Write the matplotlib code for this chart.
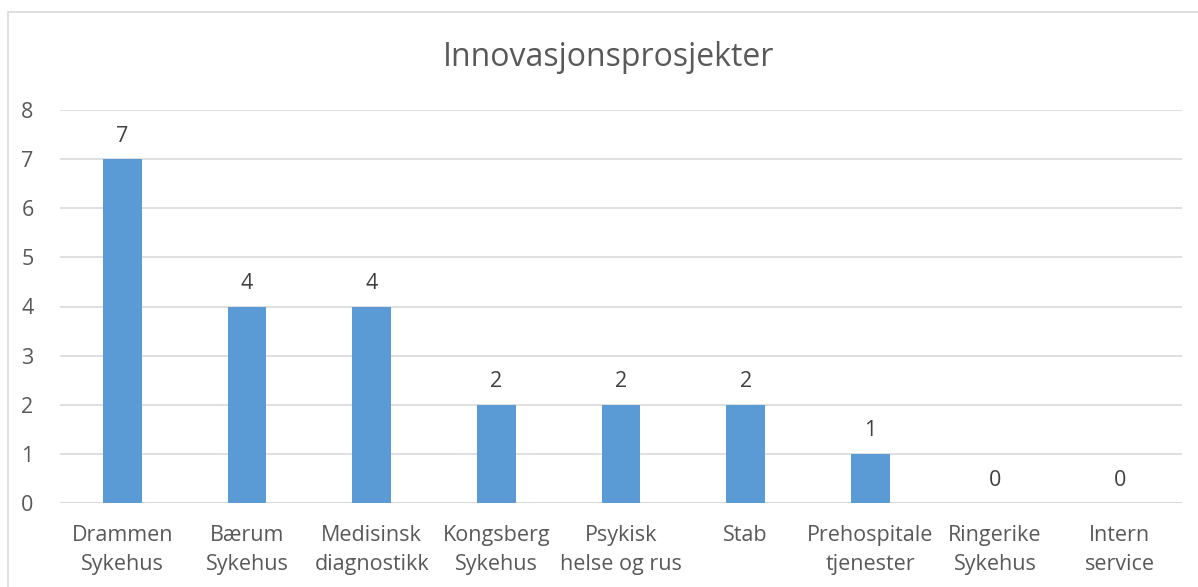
import matplotlib
matplotlib.use("Agg")
import matplotlib.pyplot as plt
from matplotlib.patches import Rectangle

categories = ["Drammen\nSykehus", "Bærum\nSykehus", "Medisinsk\ndiagnostikk",
              "Kongsberg\nSykehus", "Psykisk\nhelse og rus", "Stab",
              "Prehospitale\ntjenester", "Ringerike\nSykehus", "Intern\nservice"]
values = [7, 4, 4, 2, 2, 2, 1, 0, 0]
yticks = [0, 1, 2, 3, 4, 5, 6, 7, 8]
title = "Innovasjonsprosjekter"

plt.rcParams['font.family'] = ['Open Sans', 'DejaVu Sans']
txt = "#595959"
W, H = 1198, 587
fig = plt.figure(figsize=(W / 100, H / 100), dpi=100)
fig.patch.set_facecolor("white")

# chart border (cut off at right)
fig.patches.append(Rectangle((8 / W, -0.1), 1.2, 1 - 12 / H + 0.1, transform=fig.transFigure,
                             fill=False, edgecolor="#D9D9D9", linewidth=1.2))
# cropped document text at top
fig.text(60 / W, 1 + 6.5 / H, "Prosjektoppfølging", family="Liberation Serif",
         fontsize=24, color="black", va="baseline", ha="left")

ax = fig.add_axes([60 / W, 1 - 503 / H, (1182 - 60) / W, (503 - 110) / H])
x = list(range(len(categories)))
bars = ax.bar(x, values, width=0.31, color="#5B9BD5", zorder=3)
ax.set_xlim(-0.5, len(categories) - 0.5)
ax.set_ylim(0, 8)
ax.set_yticks(yticks)
ax.set_xticks(x)
ax.set_xticklabels(categories, fontsize=15.5, color=txt, linespacing=1.5)
ax.tick_params(axis="y", labelsize=15.5, labelcolor=txt, length=0, pad=19)
ax.tick_params(axis="x", length=0, pad=16)
ax.grid(axis="y", color="#D9D9D9", linewidth=1.2, zorder=0)
for s in ax.spines.values():
    s.set_visible(False)
ax.axhline(0, color="#D9D9D9", linewidth=1.2, zorder=1)
for xi, v in zip(x, values):
    ax.annotate(str(v), (xi, v), xytext=(0, 9), textcoords="offset points",
                ha="center", va="bottom", fontsize=15.5, color="#404040")
fig.text(609 / W, 1 - 58 / H, title, ha="center", va="center", fontsize=23, color=txt)

fig.savefig("out.png", dpi=100)
